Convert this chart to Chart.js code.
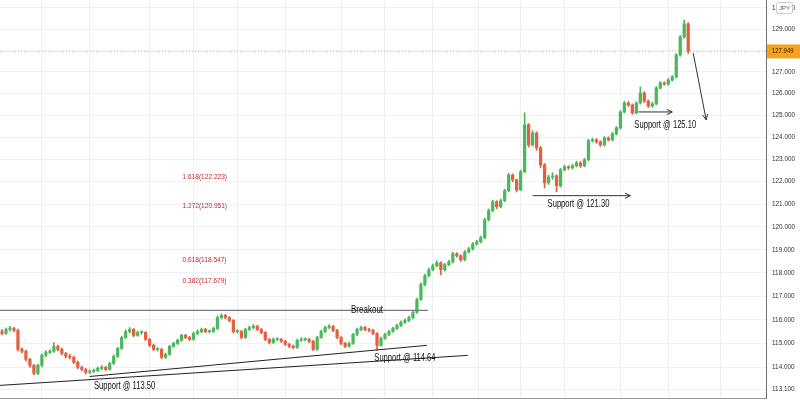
<!DOCTYPE html>
<html>
<head>
<meta charset="utf-8">
<script src="https://cdn.jsdelivr.net/npm/chart.js@4.4.0/dist/chart.umd.min.js"></script>
<style>
  html, body { margin: 0; padding: 0; background: #fff; }
  #wrap { width: 800px; height: 400px; }
</style>
</head>
<body>
<div id="wrap"><canvas id="chart"></canvas></div>
<script>
// price data (one candle every ~4px)
const firstOpen = 115.50;
const closes = [
  115.42, 115.59, 115.63, 115.55, 114.75, 114.67, 114.33, 114.08, 113.75, 114.08,
  114.50, 114.62, 114.67, 114.88, 114.75, 114.58, 114.46, 114.42, 114.21, 114.00,
  113.91, 113.79, 113.83, 113.87, 113.96, 114.00, 113.91, 114.16, 114.46, 114.79,
  115.25, 115.50, 115.59, 115.34, 115.46, 115.46, 115.17, 114.92, 114.75, 114.75,
  114.42, 114.54, 114.88, 115.00, 115.13, 115.34, 115.25, 115.17, 115.42, 115.50,
  115.59, 115.50, 115.50, 115.63, 116.09, 116.18, 116.09, 115.97, 115.50, 115.50,
  115.25, 115.59, 115.67, 115.72, 115.59, 115.46, 115.17, 115.04, 115.17, 115.17,
  115.09, 114.96, 114.88, 114.83, 115.13, 115.17, 115.17, 115.09, 114.75, 115.25,
  115.50, 115.67, 115.72, 115.55, 115.25, 115.00, 114.88, 115.00, 115.38, 115.59,
  115.67, 115.59, 115.55, 115.42, 114.92, 115.21, 115.38, 115.50, 115.63, 115.76,
  115.89, 115.97, 116.09, 116.31, 116.86, 117.50, 117.88, 118.14, 118.31, 118.44,
  118.14, 118.36, 118.48, 118.83, 118.74, 118.57, 118.91, 119.04, 119.26, 119.35,
  119.53, 120.32, 120.72, 121.11, 120.89, 121.16, 121.60, 122.30, 122.08, 121.64,
  122.44, 124.56, 123.65, 124.19, 123.52, 122.75, 121.95, 122.21, 122.26, 121.82,
  122.53, 122.66, 122.62, 122.71, 122.84, 122.71, 122.98, 123.84, 123.88, 123.79,
  123.65, 123.97, 123.88, 124.15, 124.42, 125.15, 125.56, 125.47, 125.11, 125.56,
  126.02, 125.65, 125.42, 125.52, 126.25, 126.48, 126.43, 126.62, 126.76, 127.78,
  128.62, 129.24, 127.949
];
const highs = [
  115.58, 115.66, 115.72, 115.68, 115.60, 114.82, 114.72, 114.38, 114.12, 114.14,
  114.56, 114.70, 114.74, 115.04, 114.93, 114.80, 114.63, 114.54, 114.47, 114.26,
  114.06, 113.96, 113.90, 113.93, 114.02, 114.08, 114.05, 114.21, 114.52, 114.84,
  115.31, 115.57, 115.67, 115.63, 115.52, 115.53, 115.50, 115.22, 114.97, 114.82,
  114.79, 114.60, 114.93, 115.06, 115.19, 115.40, 115.39, 115.30, 115.47, 115.57,
  115.65, 115.64, 115.56, 115.69, 116.16, 116.25, 116.23, 116.14, 116.01, 115.58,
  115.55, 115.64, 115.74, 115.80, 115.77, 115.63, 115.50, 115.21, 115.23, 115.24,
  115.22, 115.13, 115.01, 114.93, 115.18, 115.24, 115.23, 115.22, 115.13, 115.30,
  115.56, 115.73, 115.79, 115.76, 115.59, 115.29, 115.05, 115.06, 115.43, 115.65,
  115.73, 115.72, 115.64, 115.59, 115.46, 115.27, 115.44, 115.56, 115.69, 115.82,
  115.95, 116.04, 116.15, 116.37, 116.92, 117.57, 117.95, 118.21, 118.38, 118.52,
  118.48, 118.42, 118.55, 118.90, 118.88, 118.79, 118.97, 119.11, 119.32, 119.42,
  119.60, 120.39, 120.79, 121.18, 121.16, 121.23, 121.67, 122.38, 122.35, 122.12,
  122.52, 125.11, 124.62, 124.30, 124.25, 123.58, 122.82, 122.30, 122.40, 122.31,
  122.60, 122.74, 122.72, 122.78, 122.92, 122.90, 123.05, 123.91, 123.96, 123.94,
  123.84, 124.03, 124.02, 124.22, 124.49, 125.22, 125.64, 125.62, 125.52, 125.62,
  126.30, 126.08, 125.70, 125.60, 126.32, 126.55, 126.54, 126.69, 126.83, 127.85,
  128.70, 129.42, 129.30
];
const lows = [
  115.36, 115.38, 115.52, 115.49, 114.68, 114.60, 114.27, 114.00, 113.68, 113.70,
  114.02, 114.44, 114.57, 114.62, 114.69, 114.52, 114.40, 114.35, 114.15, 113.94,
  113.84, 113.72, 113.74, 113.78, 113.82, 113.90, 113.86, 113.88, 114.12, 114.41,
  114.75, 115.20, 115.44, 115.28, 115.30, 115.39, 115.12, 114.86, 114.70, 114.68,
  114.36, 114.37, 114.50, 114.84, 114.95, 115.08, 115.20, 115.12, 115.13, 115.37,
  115.45, 115.45, 115.43, 115.46, 115.58, 116.03, 116.03, 115.91, 115.44, 115.43,
  115.19, 115.21, 115.54, 115.62, 115.54, 115.40, 115.11, 114.98, 115.00, 115.11,
  115.04, 114.91, 114.82, 114.77, 114.79, 115.08, 115.11, 115.03, 114.69, 114.71,
  115.21, 115.45, 115.62, 115.50, 115.20, 114.95, 114.82, 114.84, 114.96, 115.33,
  115.54, 115.54, 115.49, 115.37, 114.72, 114.88, 115.17, 115.33, 115.46, 115.58,
  115.71, 115.84, 115.92, 116.04, 116.27, 116.82, 117.44, 117.83, 118.09, 118.26,
  117.92, 118.08, 118.31, 118.43, 118.68, 118.50, 118.52, 118.86, 118.99, 119.20,
  119.30, 119.48, 120.26, 120.67, 120.80, 120.84, 121.11, 121.55, 122.00, 121.55,
  121.60, 122.40, 123.55, 123.60, 123.40, 122.62, 121.72, 121.88, 122.10, 121.55,
  121.76, 122.48, 122.55, 122.56, 122.66, 122.64, 122.66, 122.93, 123.78, 123.72,
  123.58, 123.60, 123.82, 123.83, 124.10, 124.37, 125.10, 125.40, 125.04, 125.06,
  125.51, 125.58, 125.35, 125.36, 125.47, 126.20, 126.37, 126.38, 126.56, 126.71,
  127.72, 128.57, 127.85
];

const yTicks = [113.1, 114, 115, 116, 117, 118, 119, 120, 121, 122, 123, 124, 125, 126, 127, 128, 129, 130];
const gridX = [10, 22, 37, 48, 59, 71, 85, 96, 108, 119.5, 130, 141, 155, 167, 180];
const lastPrice = 127.949;

const fibNames = ["1.618", "1.272", "0.618", "0.382"];
const fibPrices = [122.223, 120.951, 118.547, 117.679];

const supportLabels = ["Support @ 113.50", "Support @ 114.64", "Support @ 121.30", "Support @ 125.10"];

const upColor = "#4cb85c";
const downColor = "#e4603f";
const sans = "'Liberation Sans', Arial, sans-serif";

const opens = closes.map((c, i) => (i === 0 ? firstOpen : closes[i - 1]));
const colors = closes.map((c, i) => (c >= opens[i] ? upColor : downColor));
const wickData = closes.map((c, i) => ({ x: i, y: [lows[i], highs[i]] }));
const bodyData = closes.map((c, i) => ({ x: i, y: [opens[i], c] }));

function line(ctx, a, b) {
  ctx.beginPath();
  ctx.moveTo(a[0], a[1]);
  ctx.lineTo(b[0], b[1]);
  ctx.stroke();
}

function arrow(ctx, a, b) {
  line(ctx, a, b);
  const ang = Math.atan2(b[1] - a[1], b[0] - a[0]);
  const len = 6;
  ctx.beginPath();
  ctx.moveTo(b[0] - len * Math.cos(ang - 0.45), b[1] - len * Math.sin(ang - 0.45));
  ctx.lineTo(b[0], b[1]);
  ctx.lineTo(b[0] - len * Math.cos(ang + 0.45), b[1] - len * Math.sin(ang + 0.45));
  ctx.stroke();
}

// the reference uses a condensed face, so squeeze the text horizontally
function narrowText(ctx, text, x, y, squeeze) {
  ctx.save();
  ctx.translate(x, y);
  ctx.scale(squeeze, 1);
  ctx.fillText(text, 0, 0);
  ctx.restore();
}

const drawings = {
  id: "drawings",
  beforeDatasetsDraw(chart) {
    const { ctx, chartArea } = chart;
    const y = chart.scales.y.getPixelForValue(lastPrice);
    ctx.save();
    ctx.strokeStyle = "#f3b56a";
    ctx.lineWidth = 1;
    ctx.setLineDash([1, 2]);
    line(ctx, [chartArea.left, y], [chartArea.right, y]);
    ctx.restore();
  },
  afterDatasetsDraw(chart) {
    const { ctx } = chart;
    const P = (i, p) => [chart.scales.x.getPixelForValue(i), chart.scales.y.getPixelForValue(p)];
    ctx.save();

    // breakout level
    ctx.strokeStyle = "#7a7a7a";
    ctx.lineWidth = 1.3;
    line(ctx, P(-0.5, 116.40), P(106.75, 116.40));

    // rising trend lines
    ctx.strokeStyle = "#222";
    ctx.lineWidth = 1;
    line(ctx, P(-0.5, 113.25), P(116.75, 114.50));
    line(ctx, P(22, 113.62), P(106.5, 114.92));

    // arrows
    ctx.strokeStyle = "#333";
    arrow(ctx, P(133, 121.38), P(157.5, 121.38));
    arrow(ctx, P(159.5, 125.15), P(168, 125.15));
    arrow(ctx, P(173.25, 127.87), P(176.5, 124.79));

    // texts
    ctx.fillStyle = "#111";
    ctx.font = "10px " + sans;
    ctx.textAlign = "center";
    ctx.textBaseline = "middle";
    let p = P(91.5, 116.42);
    narrowText(ctx, "Breakout", p[0], p[1], 0.8);
    p = P(30.75, 113.22);
    narrowText(ctx, supportLabels[0], p[0], p[1], 0.76);
    p = P(101, 114.37);
    narrowText(ctx, supportLabels[1], p[0], p[1], 0.76);
    p = P(144.5, 121.02);
    narrowText(ctx, supportLabels[2], p[0], p[1], 0.76);
    p = P(166.25, 124.56);
    narrowText(ctx, supportLabels[3], p[0], p[1], 0.76);

    ctx.fillStyle = "#c62828";
    ctx.font = "8px " + sans;
    ctx.textAlign = "left";
    fibNames.forEach((n, k) => {
      const q = P(45.25, fibPrices[k]);
      narrowText(ctx, n + "(" + fibPrices[k].toFixed(3) + ")", q[0], q[1], 0.82);
    });
    ctx.restore();
  },
  afterDraw(chart) {
    const { ctx, chartArea } = chart;
    const y = chart.scales.y.getPixelForValue(lastPrice);
    ctx.save();
    // last price tag
    ctx.fillStyle = "#f7a21b";
    ctx.fillRect(chartArea.right + 1, y - 7, 33, 14);
    ctx.fillStyle = "#222";
    ctx.font = "7px " + sans;
    ctx.textBaseline = "middle";
    ctx.textAlign = "left";
    narrowText(ctx, lastPrice.toFixed(3), chartArea.right + 6, y, 0.85);
    // currency badge
    ctx.fillStyle = "#fff";
    ctx.strokeStyle = "#c8c8c8";
    ctx.lineWidth = 1;
    ctx.beginPath();
    ctx.roundRect(chartArea.right + 10.5, 2.5, 16, 11, 2);
    ctx.fill();
    ctx.stroke();
    ctx.fillStyle = "#555";
    ctx.font = "6px " + sans;
    ctx.textAlign = "center";
    ctx.fillText("JPY", chartArea.right + 18.5, 8.5);
    ctx.restore();
  }
};

new Chart(document.getElementById("chart"), {
  type: "bar",
  data: {
    datasets: [
      { data: wickData, backgroundColor: colors, barThickness: 1, grouped: false, order: 2 },
      { data: bodyData, backgroundColor: colors, barThickness: 2.6, minBarLength: 1, grouped: false, order: 1 }
    ]
  },
  options: {
    animation: false,
    responsive: true,
    maintainAspectRatio: false,
    layout: { padding: 0, autoPadding: false },
    plugins: { legend: { display: false }, tooltip: { enabled: false } },
    scales: {
      x: {
        type: "linear",
        min: -0.5,
        max: 191.5,
        offset: false,
        afterBuildTicks: (s) => { s.ticks = gridX.map((v) => ({ value: v })); },
        afterFit: (s) => {
          s.height = 2;
          s.paddingLeft = s.paddingRight = s.paddingTop = s.paddingBottom = 0;
        },
        ticks: { display: false },
        grid: { color: "#eef0f3", drawTicks: false, offset: false },
        border: { display: true, color: "#9a9a9a" }
      },
      y: {
        type: "logarithmic",
        position: "right",
        min: 112.73,
        max: 130.375,
        afterBuildTicks: (s) => { s.ticks = yTicks.map((v) => ({ value: v })); },
        afterFit: (s) => {
          s.width = 34;
          s.paddingLeft = s.paddingRight = s.paddingTop = s.paddingBottom = 0;
        },
        ticks: {
          autoSkip: false,
          padding: 6,
          color: "#333",
          font: { family: sans, size: 6.4 },
          callback: (v) => Number(v).toFixed(3)
        },
        grid: { color: "#eef0f3", drawTicks: false },
        border: { color: "#707070" }
      }
    }
  },
  plugins: [drawings]
});
</script>
</body>
</html>
